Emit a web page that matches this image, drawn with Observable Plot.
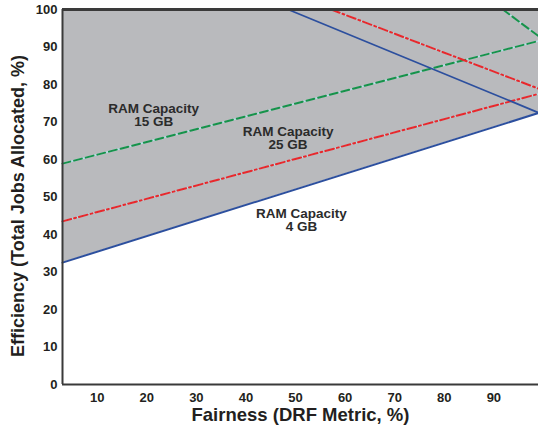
<!DOCTYPE html>
<html>
<head>
<meta charset="utf-8">
<script src="https://cdn.jsdelivr.net/npm/d3@7"></script>
<script src="https://cdn.jsdelivr.net/npm/@observablehq/plot@0.6"></script>
<style>
  html, body { margin: 0; padding: 0; background: #fff; }
  svg { display: block; }
</style>
</head>
<body>
<div id="chart"></div>
<script>
// Fairness (x) endpoints and efficiency (y) values
const xEnds = [3, 99];
const ram4Rise = [32.5, 72.4];
const ram15Rise = [58.9, 91.6];
const ram25Rise = [43.5, 77.5];

const ram4FallX = [48.5, 99];
const ram4Fall = [100, 72.5];
const ram15FallX = [91.8, 99];
const ram15Fall = [100, 92.9];
const ram25FallX = [57.2, 99];
const ram25Fall = [100, 78.9];

const xTicks = [10, 20, 30, 40, 50, 60, 70, 80, 90];
const yTicks = [0, 10, 20, 30, 40, 50, 60, 70, 80, 90, 100];

const labelText = ["RAM Capacity\n15 GB", "RAM Capacity\n25 GB", "RAM Capacity\n4 GB"];
const labelX = [21.4, 48.5, 51.2];
const labelY = [71.8, 65.7, 43.8];

const xTitle = "Fairness (DRF Metric, %)";
const yTitle = "Efficiency (Total Jobs Allocated, %)";

const seg = (xs, ys) => xs.map((x, i) => ({x, y: ys[i]}));
const fill = xEnds.map((x, i) => ({x, lo: ram4Rise[i], hi: 100}));
const labels = labelText.map((t, i) => ({t, x: labelX[i], y: labelY[i]}));

const blue = "#2c4f9e", green = "#17924a", red = "#e8282c", gapCol = "#b5dde6";
const font = "'Liberation Sans', Arial, Helvetica, sans-serif";

const chart = Plot.plot({
  width: 538,
  height: 432,
  marginLeft: 62,
  marginRight: 0,
  marginTop: 9,
  marginBottom: 48,
  style: {fontFamily: font, background: "#fff", overflow: "visible"},
  x: {domain: [3, 99]},
  y: {domain: [0, 100]},
  marks: [
    Plot.areaY(fill, {x: "x", y1: "lo", y2: "hi", fill: "#b9babd"}),
    // light gaps under dashed lines
    Plot.line(seg(xEnds, ram15Rise), {x: "x", y: "y", stroke: gapCol, strokeWidth: 1.6}),
    Plot.line(seg(ram15FallX, ram15Fall), {x: "x", y: "y", stroke: gapCol, strokeWidth: 1.6}),
    Plot.line(seg(xEnds, ram25Rise), {x: "x", y: "y", stroke: gapCol, strokeWidth: 1.6}),
    Plot.line(seg(ram25FallX, ram25Fall), {x: "x", y: "y", stroke: gapCol, strokeWidth: 1.6}),
    Plot.line(seg(xEnds, ram15Rise), {x: "x", y: "y", stroke: green, strokeWidth: 2, strokeDasharray: "8,4"}),
    Plot.line(seg(ram15FallX, ram15Fall), {x: "x", y: "y", stroke: green, strokeWidth: 2, strokeDasharray: "8,4"}),
    Plot.line(seg(xEnds, ram25Rise), {x: "x", y: "y", stroke: red, strokeWidth: 2, strokeDasharray: "9,3,2,3"}),
    Plot.line(seg(ram25FallX, ram25Fall), {x: "x", y: "y", stroke: red, strokeWidth: 2, strokeDasharray: "9,3,2,3"}),
    Plot.line(seg(xEnds, ram4Rise), {x: "x", y: "y", stroke: blue, strokeWidth: 2}),
    Plot.line(seg(ram4FallX, ram4Fall), {x: "x", y: "y", stroke: blue, strokeWidth: 1.8}),
    Plot.text(labels, {x: "x", y: "y", text: "t", fontSize: 13.5, fontWeight: "bold", fill: "#2b2b2b", lineHeight: 1.0}),
    // frame lines
    Plot.ruleY([100], {stroke: "#3a3a3a", strokeWidth: 3}),
    Plot.ruleY([0], {stroke: "#3a3a3a", strokeWidth: 2}),
    Plot.ruleX([3], {stroke: "#3a3a3a", strokeWidth: 2}),
    Plot.axisX({ticks: xTicks, tickSize: 0, tickPadding: 8, fontSize: 13, fontWeight: "bold", fill: "#231f20", label: null}),
    Plot.axisY({ticks: yTicks, tickSize: 0, tickPadding: 5, fontSize: 13, fontWeight: "bold", fill: "#231f20", label: null}),
    Plot.text([xTitle], {frameAnchor: "bottom", textAnchor: "middle", lineAnchor: "middle", dy: 31, fontSize: 18.5, fontWeight: "bold", fill: "#231f20"}),
    Plot.text([yTitle], {frameAnchor: "left", textAnchor: "middle", lineAnchor: "middle", rotate: -90, dx: -44, dy: 9, fontSize: 18, fontWeight: "bold", fill: "#231f20"})
  ]
});
document.getElementById("chart").append(chart);
</script>
</body>
</html>
